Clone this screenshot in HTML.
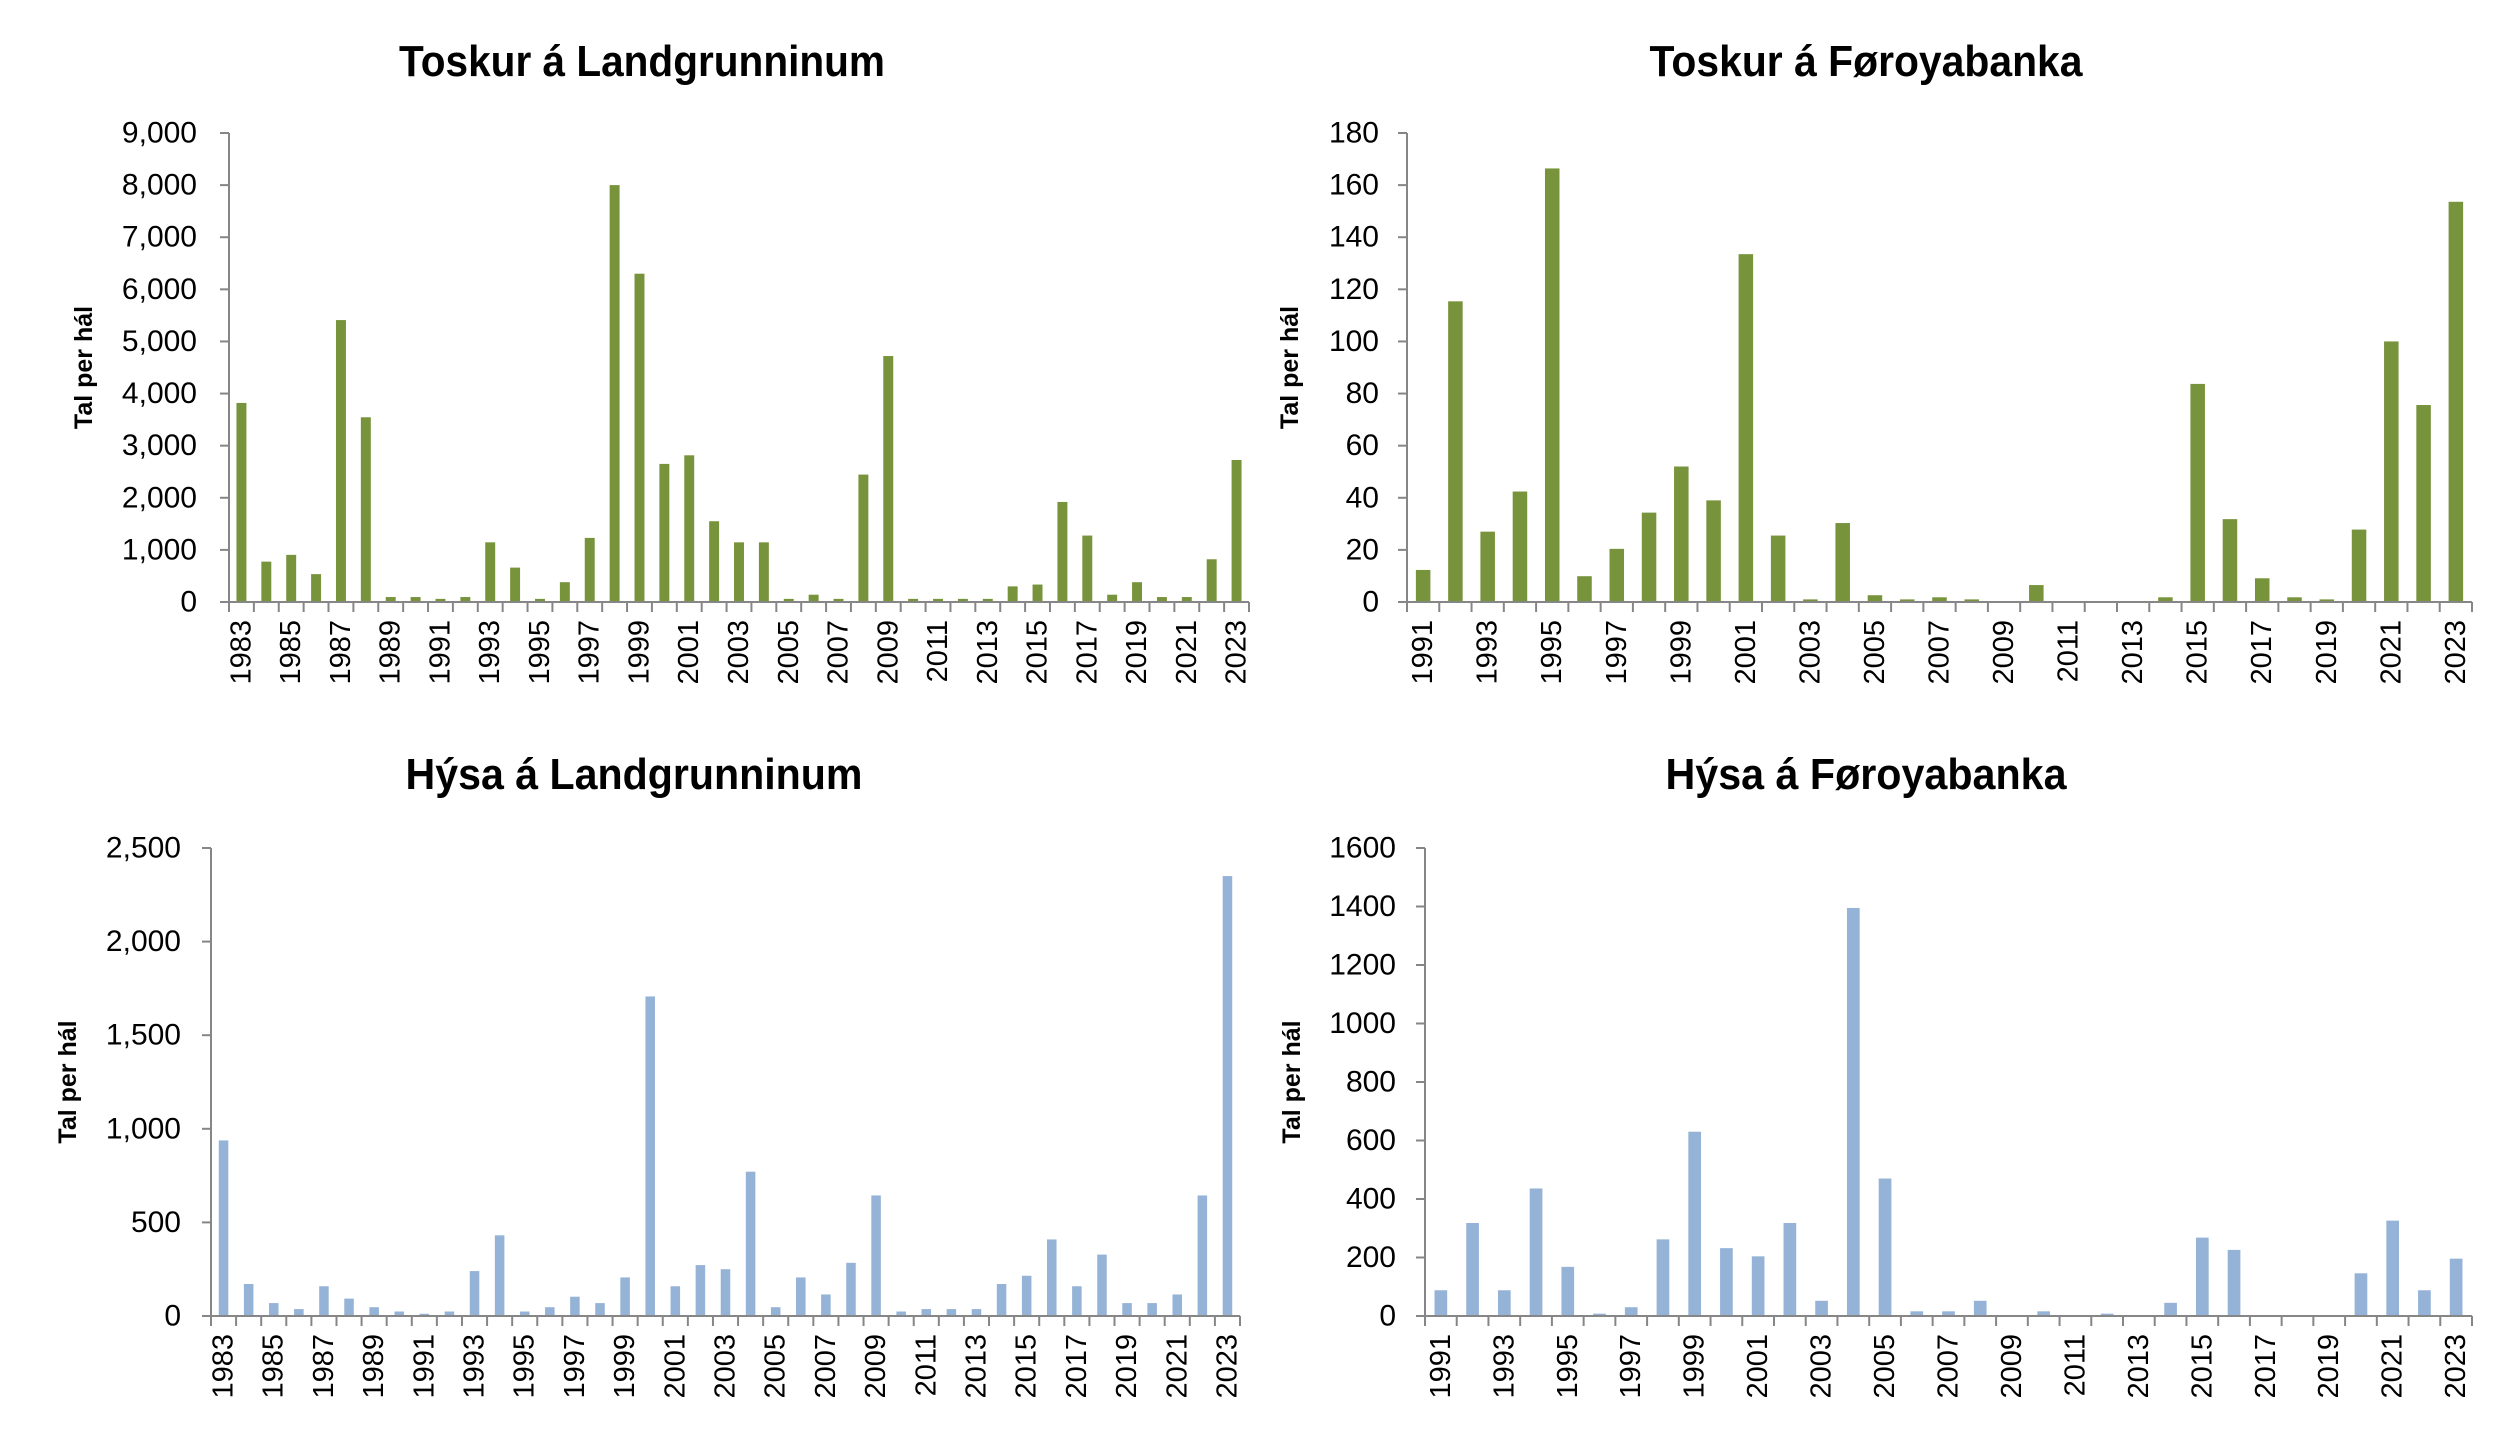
<!DOCTYPE html>
<html><head><meta charset="utf-8"><style>
html,body{margin:0;padding:0;background:#fff;}
svg{display:block;font-family:"Liberation Sans",sans-serif;}
</style></head><body>
<svg id="c" width="2504" height="1432" viewBox="0 0 2504 1432"></svg>
<script>
const yearsA = []; for (let y = 1983; y <= 2023; y++) yearsA.push(y);
const yearsB = []; for (let y = 1991; y <= 2023; y++) yearsB.push(y);
const toskurLand = [3820,775,905,535,5410,3545,95,95,60,95,1145,660,60,380,1230,8000,6300,2650,2815,1550,1145,1145,60,140,60,2445,4720,60,60,60,60,300,335,1920,1275,140,380,95,95,820,2725];
const toskurFB = [12.3,115.4,27,42.4,166.4,9.9,20.4,34.3,52,39,133.5,25.5,1,30.3,2.6,1,1.8,1,0,6.5,0,0,0,1.8,83.7,31.8,9.1,1.8,1,27.8,100,75.6,153.6];
const hysaLand = [938,171,69,37,159,93,47,24,12,24,240,431,24,47,103,69,206,1707,159,272,250,771,47,206,115,284,644,24,37,37,37,171,215,409,159,328,69,69,115,644,2350];
const hysaFB = [88,318,88,436,168,8,30,262,630,232,204,318,52,1395,470,16,16,52,0,16,0,8,0,45,268,226,0,0,0,146,326,88,196];
const ticksTL = [0,1000,2000,3000,4000,5000,6000,7000,8000,9000];
const ticksTR = [0,20,40,60,80,100,120,140,160,180];
const ticksBL = [0,500,1000,1500,2000,2500];
const ticksBR = [0,200,400,600,800,1000,1200,1400,1600];

const NS = "http://www.w3.org/2000/svg";
const svg = document.getElementById('c');
function el(tag, attrs, parent) {
  const e = document.createElementNS(NS, tag);
  for (const k in attrs) e.setAttribute(k, attrs[k]);
  (parent || svg).appendChild(e);
  return e;
}
function chart(o) {
  const g = el('g', {});
  
  
  const max = o.ticks[o.ticks.length - 1];
  const yS = v => o.y0 - (v / max) * (o.y0 - o.yTop);
  const n = o.cats.length;
  const cw = (o.x1 - o.x0) / n;
  const xS = i => o.x0 + cw * (i + 0.5);
  // title
  const t = el('text', {x: o.tx, y: o.ty, 'text-anchor': 'middle', 'font-size': 44, 'font-weight': 'bold', textLength: o.tw, lengthAdjust: 'spacingAndGlyphs', fill: '#000'}, g);
  t.textContent = o.title;
  
  
  // y title
  const yt = el('text', {x: 0, y: 0, transform: `translate(${o.ytx},${(o.yTop + o.y0) / 2}) rotate(-90)`, 'text-anchor': 'middle', 'dominant-baseline': 'central', 'font-size': 25, 'font-weight': 'bold', fill: '#000'}, g);
  yt.textContent = 'Tal per hál';
  
  
  // bars
  o.vals.forEach((v, i) => {
    if (v <= 0) return;
    const bw = cw * o.bwr;
    const r = el('rect', {x: xS(i) - bw / 2, y: yS(v), width: bw, height: o.y0 - yS(v), fill: o.color}, g);
    
    
  });
  // y axis
  const ya = el('line', {x1: o.x0, y1: o.yTop, x2: o.x0, y2: o.y0, stroke: '#868686', 'stroke-width': 2}, g);
  
  
  o.ticks.forEach(v => {
    el('line', {x1: o.x0 - 9, y1: yS(v), x2: o.x0, y2: yS(v), stroke: '#868686', 'stroke-width': 2}, g);
    const lt = el('text', {x: o.lx, y: yS(v), 'text-anchor': 'end', 'dominant-baseline': 'central', 'font-size': 30, fill: '#000'}, g);
    lt.textContent = o.fmt ? v.toLocaleString('en-US') : String(v);
    
    
  });
  // x axis
  const xa = el('line', {x1: o.x0, y1: o.y0, x2: o.x1, y2: o.y0, stroke: '#868686', 'stroke-width': 2}, g);
  
  
  for (let i = 0; i <= n; i++) {
    const x = o.x0 + cw * i;
    el('line', {x1: x, y1: o.y0, x2: x, y2: o.y0 + 10, stroke: '#868686', 'stroke-width': 2}, g);
  }
  o.cats.forEach((c, i) => {
    if (i % 2) return;
    const xt = el('text', {x: 0, y: 0, transform: `translate(${xS(i)},${o.y0 + 18}) rotate(-90)`, 'text-anchor': 'end', 'dominant-baseline': 'central', 'font-size': 29, fill: '#000'}, g);
    xt.textContent = c;
    
    
  });
}
chart({name: 'toskur-landgrunninum-chart', title: 'Toskur á Landgrunninum', tx: 642, ty: 76, tw: 486, cats: yearsA, vals: toskurLand, ticks: ticksTL, fmt: true,
  x0: 229, x1: 1249, y0: 602, yTop: 133, lx: 197, ytx: 84, color: '#77933C', bwr: 0.4});
chart({name: 'toskur-foroyabanka-chart', title: 'Toskur á Føroyabanka', tx: 1866, ty: 76, tw: 433, cats: yearsB, vals: toskurFB, ticks: ticksTR, fmt: false,
  x0: 1407, x1: 2472, y0: 602, yTop: 133, lx: 1379, ytx: 1290, color: '#77933C', bwr: 0.45});
chart({name: 'hysa-landgrunninum-chart', title: 'Hýsa á Landgrunninum', tx: 634, ty: 789, tw: 457, cats: yearsA, vals: hysaLand, ticks: ticksBL, fmt: true,
  x0: 211, x1: 1240, y0: 1316, yTop: 848, lx: 181, ytx: 68, color: '#95B3D7', bwr: 0.38});
chart({name: 'hysa-foroyabanka-chart', title: 'Hýsa á Føroyabanka', tx: 1866, ty: 789, tw: 401, cats: yearsB, vals: hysaFB, ticks: ticksBR, fmt: false,
  x0: 1425, x1: 2472, y0: 1316, yTop: 848, lx: 1396, ytx: 1292, color: '#95B3D7', bwr: 0.4});
</script>
</body></html>
